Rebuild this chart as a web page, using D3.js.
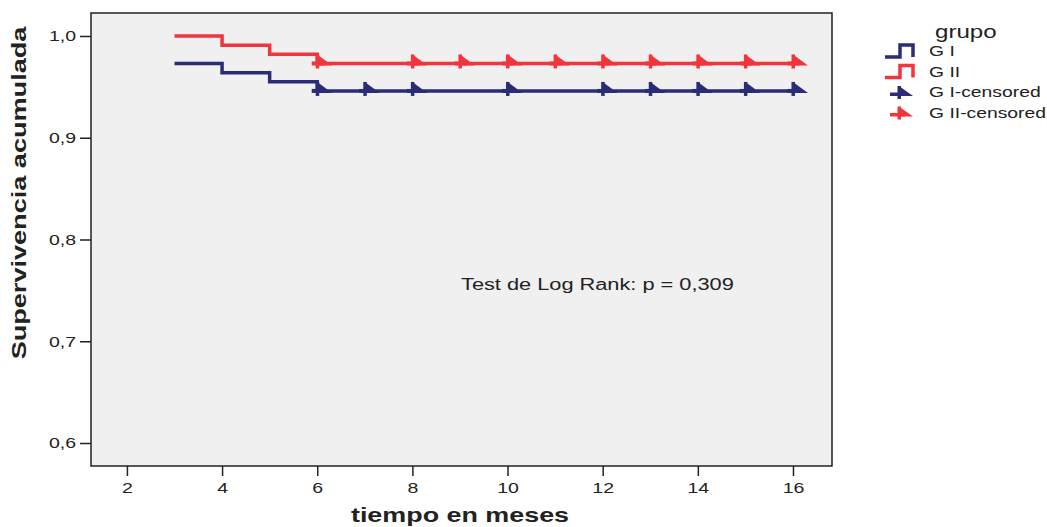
<!DOCTYPE html>
<html>
<head>
<meta charset="utf-8">
<script src="https://cdn.jsdelivr.net/npm/d3@7/dist/d3.min.js"></script>
<style>
  body { margin: 0; background: #fff; }
  text { font-family: "Liberation Sans", Arial, sans-serif; }
</style>
</head>
<body>
<div id="chart"></div>
<script>
// step data: survival changes at each time
var g1Times = [3, 4, 5, 6, 16];
var g1Surv = [0.973, 0.964, 0.955, 0.946, 0.946];
var g2Times = [3, 4, 5, 6, 16];
var g2Surv = [1.0, 0.991, 0.982, 0.973, 0.973];

// censored observations
var g1Censored = [6, 7, 8, 10, 12, 13, 14, 15, 16];
var g2Censored = [6, 8, 9, 10, 11, 12, 13, 14, 15, 16];

var xTicks = [2, 4, 6, 8, 10, 12, 14, 16];
var yTicks = [0.6, 0.7, 0.8, 0.9, 1.0];
var groupNames = ["G I", "G II", "G I-censored", "G II-censored"];

var blue = "#2b2b78", red = "#f2343d";

var width = 1047, height = 527;
var margin = {top: 13, right: 215, bottom: 61, left: 91};

var svg = d3.select("#chart")
    .append("svg")
    .attr("width", width)
    .attr("height", height);

// the original glyphs are wider than Liberation Sans, stretch them
function stretch(sel, f) {
    sel.each(function() {
        var w = this.getComputedTextLength();
        d3.select(this)
            .attr("textLength", w * f)
            .attr("lengthAdjust", "spacingAndGlyphs");
    });
}

var x = d3.scaleLinear()
    .domain([1.245, 16.82])
    .range([margin.left, width - margin.right]);

var y = d3.scaleLinear()
    .domain([0.5774, 1.0226])
    .range([height - margin.bottom, margin.top]);

// plot background
svg.append("rect")
    .attr("x", margin.left)
    .attr("y", margin.top)
    .attr("width", x.range()[1] - margin.left)
    .attr("height", y.range()[0] - margin.top)
    .attr("fill", "#f0f0f0")
    .attr("stroke", "#222")
    .attr("stroke-width", 1.5);

// axes
var xAxis = svg.append("g")
    .attr("transform", "translate(0," + y.range()[0] + ")")
    .call(d3.axisBottom(x).tickValues(xTicks).tickSize(10).tickPadding(6).tickFormat(d3.format("d")));
xAxis.select(".domain").remove();

var yAxis = svg.append("g")
    .attr("transform", "translate(" + margin.left + ",0)")
    .call(d3.axisLeft(y).tickValues(yTicks).tickSize(11).tickPadding(4)
        .tickFormat(function(d) { return d3.format(".1f")(d).replace(".", ","); }));
yAxis.select(".domain").remove();

svg.selectAll(".tick line").attr("stroke", "#222").attr("stroke-width", 1.5);
svg.selectAll(".tick text")
    .attr("font-size", "15px")
    .attr("fill", "#222")
    .style("font-family", "Liberation Sans, Arial, sans-serif")
    .call(stretch, 1.3);

// axis titles
svg.append("text")
    .attr("x", 460)
    .attr("y", 522)
    .attr("text-anchor", "middle")
    .attr("font-size", "21px")
    .attr("font-weight", "bold")
    .attr("fill", "#222")
    .text("tiempo en meses")
    .call(stretch, 1.28);

svg.append("text")
    .attr("transform", "translate(26,193) rotate(-90)")
    .attr("text-anchor", "middle")
    .attr("font-size", "21px")
    .attr("font-weight", "bold")
    .attr("fill", "#222")
    .text("Supervivencia acumulada")
    .call(stretch, 1.29);

// survival step lines
var line = d3.line()
    .x(function(d) { return x(d[0]); })
    .y(function(d) { return y(d[1]); })
    .curve(d3.curveStepAfter);

function drawSeries(times, surv, cens, color) {
    var pts = times.map(function(t, i) { return [t, surv[i]]; });
    svg.append("path")
        .datum(pts)
        .attr("d", line)
        .attr("fill", "none")
        .attr("stroke", color)
        .attr("stroke-width", 3.5);

    // censored marks: a cross with a right-pointing triangle
    var level = surv[surv.length - 1];
    cens.forEach(function(c) {
        drawCensor(x(c), y(level), color);
    });
}

function drawCensor(cx, cy, color) {
    var g = svg.append("g").attr("transform", "translate(" + cx + "," + cy + ")");
    g.append("path")
        .attr("d", "M0,-9 L15,2 L0,2 Z")
        .attr("fill", color);
    g.append("rect")
        .attr("x", -1.5).attr("y", -9).attr("width", 3.5).attr("height", 14)
        .attr("fill", color);
    g.append("rect")
        .attr("x", -5.5).attr("y", -2).attr("width", 12).attr("height", 4)
        .attr("fill", color);
}

drawSeries(g1Times, g1Surv, g1Censored, blue);
drawSeries(g2Times, g2Surv, g2Censored, red);

// annotation
svg.append("text")
    .attr("x", 461)
    .attr("y", 290)
    .attr("font-size", "16px")
    .attr("fill", "#222")
    .text("Test de Log Rank: p = 0,309")
    .call(stretch, 1.36);

// legend
var legend = svg.append("g");
legend.append("text")
    .attr("x", 935).attr("y", 38)
    .attr("font-size", "18px")
    .attr("fill", "#222")
    .text("grupo")
    .call(stretch, 1.34);

var legendColors = [blue, red, blue, red];
groupNames.forEach(function(name, i) {
    var cy = 51 + i * 20.5;
    if (i < 2) {
        legend.append("path")
            .attr("d", "M885," + (cy + 6) + " L900," + (cy + 6) + " L900," + (cy - 6) + " L913," + (cy - 6) + " L913," + (cy + 6))
            .attr("fill", "none")
            .attr("stroke", legendColors[i])
            .attr("stroke-width", 3.5);
    } else {
        var g = legend.append("g").attr("transform", "translate(899," + (cy + 2) + ")");
        g.append("path").attr("d", "M0,-8 L14,2 L0,2 Z").attr("fill", legendColors[i]);
        g.append("rect").attr("x", -1.5).attr("y", -8).attr("width", 3.5).attr("height", 13).attr("fill", legendColors[i]);
        g.append("rect").attr("x", -9).attr("y", -1.5).attr("width", 15).attr("height", 3.5).attr("fill", legendColors[i]);
    }
    legend.append("text")
        .attr("x", 929).attr("y", cy + 5)
        .attr("font-size", "14px")
        .attr("fill", "#222")
        .text(name)
        .call(stretch, 1.38);
});
</script>
</body>
</html>
